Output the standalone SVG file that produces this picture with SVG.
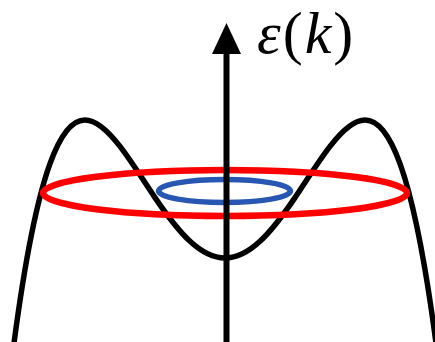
<svg xmlns="http://www.w3.org/2000/svg" width="435" height="342" viewBox="0 0 435 342">
<style>
.curve{fill:none;stroke:#000;stroke-width:5.5;stroke-linecap:round}
.ring{fill:none}
.axis{stroke:#000;stroke-width:6}
.lbl{font-family:"Liberation Serif","Times New Roman",serif;font-size:60px;fill:#000;letter-spacing:2px}
.it{font-style:italic}
</style>
<rect width="435" height="342" fill="#fff"/>
<g id="band">
<path class="curve" d="M13,350.74 C25.333,255.52 37.667,197.85 50,163.66 C61.667,131.32 73.333,120 85,120 C96.667,120 108.333,131.32 120,146.41 C131.667,161.5 143.333,180.375 155,197.63 C166.667,214.875 178.333,230.51 190,241.29 C201.667,252.07 213.333,258 225,258 C236.667,258 248.333,252.07 260,241.29 C271.667,230.51 283.333,214.875 295,197.63 C306.667,180.375 318.333,161.5 330,146.41 C341.667,131.32 353.333,120 365,120 C376.667,120 388.333,131.32 400,163.66 C412.333,197.85 424.667,255.52 437,350.74"/>
</g>
<g id="outer-ring">
<ellipse class="ring" cx="225" cy="193" rx="182" ry="23" stroke="#ff0000" stroke-width="6.5"/>
</g>
<g id="inner-ring">
<ellipse class="ring" cx="224.5" cy="191" rx="66" ry="11.5" stroke="#2857b3" stroke-width="5.5"/>
</g>
<g id="connectors">
<line class="axis" x1="226.5" y1="342" x2="226.5" y2="50"/>
<polygon points="226.5,23 212,54 241,54" fill="#000"/>
</g>
<g id="label">
<text class="lbl" x="257" y="53"><tspan class="it">ε</tspan>(<tspan class="it">k</tspan>)</text>
</g>
</svg>
